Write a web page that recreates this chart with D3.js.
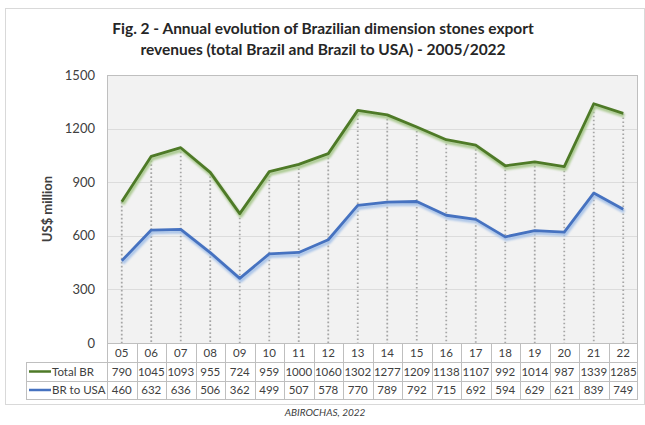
<!DOCTYPE html>
<html>
<head>
<meta charset="utf-8">
<script src="https://cdn.jsdelivr.net/npm/d3@7"></script>
<style>
  html, body { margin: 0; padding: 0; background: #ffffff; }
  svg { display: block; font-family: Lato, "Open Sans", sans-serif; }
</style>
</head>
<body>
<svg id="chart" width="645" height="425"></svg>
<script>
// Export revenues of Brazilian dimension stones, US$ million
const years = ["05","06","07","08","09","10","11","12","13","14","15","16","17","18","19","20","21","22"];
const totalBR = [790,1045,1093,955,724,959,1000,1060,1302,1277,1209,1138,1107,992,1014,987,1339,1285];
const brToUSA = [460,632,636,506,362,499,507,578,770,789,792,715,692,594,629,621,839,749];
const yTicks = [0,300,600,900,1200,1500];
const seriesNames = ["Total BR", "BR to USA"];
const seriesColors = ["#4e7a27", "#4672c0"];
const shadowColors = ["#a9c98e", "#a8c3e8"];

const svg = d3.select("#chart");

// outer chart frame
svg.append("rect")
  .attr("x", 5.5).attr("y", 8.5).attr("width", 639).attr("height", 396)
  .attr("fill", "#ffffff").attr("stroke", "#d9d9d9").attr("stroke-width", 1);

// title
const title = svg.append("text")
  .attr("text-anchor", "middle")
  .attr("font-weight", "bold")
  .attr("font-size", 15.5)
  .attr("fill", "#262626");
title.append("tspan").attr("x", 323).attr("y", 34)
  .text("Fig. 2 - Annual evolution of Brazilian dimension stones export");
title.append("tspan").attr("x", 323).attr("y", 55)
  .text("revenues (total Brazil and Brazil to USA) - 2005/2022");

const plot = { left: 107, right: 638, top: 75, bottom: 343 };

const x = d3.scaleBand().domain(years).range([plot.left, plot.right]);
const y = d3.scaleLinear().domain([0, 1500]).range([plot.bottom, plot.top]);

// plot background
svg.append("rect")
  .attr("x", plot.left).attr("y", plot.top)
  .attr("width", plot.right - plot.left).attr("height", plot.bottom - plot.top)
  .attr("fill", "#f2f2f2");

// horizontal gridlines
svg.append("g")
  .selectAll("line")
  .data(yTicks.filter(d => d > 0 && d < 1500))
  .join("line")
  .attr("x1", plot.left).attr("x2", plot.right)
  .attr("y1", d => Math.round(y(d)) + 0.5).attr("y2", d => Math.round(y(d)) + 0.5)
  .attr("stroke", "#dcdcdc").attr("stroke-width", 1);

// plot border
svg.append("rect")
  .attr("x", plot.left + 0.5).attr("y", plot.top + 0.5)
  .attr("width", plot.right - plot.left - 1).attr("height", plot.bottom - plot.top)
  .attr("fill", "none").attr("stroke", "#bfbfbf").attr("stroke-width", 1);

// y axis labels
const yAxis = d3.axisLeft(y).tickValues(yTicks).tickFormat(d3.format("d"))
  .tickSize(0).tickPadding(12);
const yg = svg.append("g").attr("transform", `translate(${plot.left},0)`).call(yAxis);
yg.select(".domain").remove();
yg.selectAll("text").attr("font-size", 13).attr("fill", "#404040")
  .attr("font-family", "Lato, 'Open Sans', sans-serif");

// y axis title
svg.append("text")
  .attr("transform", `translate(52,${(plot.top + plot.bottom) / 2}) rotate(-90)`)
  .attr("text-anchor", "middle")
  .attr("font-weight", "bold").attr("font-size", 13).attr("fill", "#404040")
  .text("US$ million");

// drop lines from the upper series to the axis
const cx = d => x(d) + x.bandwidth() / 2;
svg.append("g")
  .selectAll("line")
  .data(years)
  .join("line")
  .attr("x1", d => cx(d)).attr("x2", d => cx(d))
  .attr("y1", (d, i) => y(Math.max(totalBR[i], brToUSA[i])))
  .attr("y2", plot.bottom)
  .attr("stroke", "#a6a6a6").attr("stroke-width", 1.8)
  .attr("stroke-dasharray", "1.6 2.4");

// blurred shadow under each line
const defs = svg.append("defs");
defs.append("filter").attr("id", "soft")
  .attr("x", "-5%").attr("y", "-20%").attr("width", "110%").attr("height", "140%")
  .append("feGaussianBlur").attr("stdDeviation", 1.2);

const series = [totalBR, brToUSA];
const line = d3.line().x((d, i) => cx(years[i])).y(d => y(d));

series.forEach((vals, s) => {
  svg.append("path")
    .datum(vals)
    .attr("d", line)
    .attr("transform", "translate(1,2.5)")
    .attr("fill", "none")
    .attr("stroke", shadowColors[s])
    .attr("stroke-width", 3.5)
    .attr("stroke-linejoin", "round")
    .attr("filter", "url(#soft)");
  svg.append("path")
    .datum(vals)
    .attr("d", line)
    .attr("fill", "none")
    .attr("stroke", seriesColors[s])
    .attr("stroke-width", 2.8)
    .attr("stroke-linejoin", "round");
});

// data table under the plot
const rowTop = [plot.bottom, 362, 381];
const rowBottom = 399;
const tableLeft = 26;
const tg = svg.append("g");
const gridColor = "#bfbfbf";

// horizontal table lines
[362, 381, rowBottom].forEach(yy => {
  tg.append("line")
    .attr("x1", tableLeft).attr("x2", plot.right)
    .attr("y1", yy + 0.5).attr("y2", yy + 0.5)
    .attr("stroke", gridColor);
});
// vertical table lines
x.domain().forEach(d => {
  tg.append("line")
    .attr("x1", Math.round(x(d)) + 0.5).attr("x2", Math.round(x(d)) + 0.5)
    .attr("y1", plot.bottom).attr("y2", rowBottom)
    .attr("stroke", gridColor);
});
tg.append("line")
  .attr("x1", plot.right - 0.5).attr("x2", plot.right - 0.5)
  .attr("y1", plot.bottom).attr("y2", rowBottom).attr("stroke", gridColor);
tg.append("line")
  .attr("x1", tableLeft + 0.5).attr("x2", tableLeft + 0.5)
  .attr("y1", 362).attr("y2", rowBottom).attr("stroke", gridColor);

// category labels
tg.selectAll("text.cat")
  .data(years)
  .join("text")
  .attr("class", "cat")
  .attr("x", d => cx(d)).attr("y", (rowTop[0] + rowTop[1]) / 2 + 4.5)
  .attr("text-anchor", "middle")
  .attr("font-size", 11.5).attr("fill", "#404040")
  .text(d => d);

// value rows with legend keys
series.forEach((vals, s) => {
  const top = rowTop[s + 1];
  const bottom = s === 0 ? rowTop[2] : rowBottom;
  const mid = (top + bottom) / 2;
  tg.selectAll(`text.v${s}`)
    .data(vals)
    .join("text")
    .attr("class", `v${s}`)
    .attr("x", (d, i) => cx(years[i])).attr("y", mid + 4.2)
    .attr("text-anchor", "middle")
    .attr("font-size", 11.5).attr("fill", "#404040")
    .text(d => d);
  tg.append("line")
    .attr("x1", tableLeft + 3).attr("x2", tableLeft + 25)
    .attr("y1", mid).attr("y2", mid)
    .attr("stroke", seriesColors[s]).attr("stroke-width", 2.5);
  tg.append("text")
    .attr("x", tableLeft + 26).attr("y", mid + 4.2)
    .attr("font-size", 11.5).attr("fill", "#404040")
    .text(seriesNames[s]);
});

// source note
svg.append("text")
  .attr("x", 325).attr("y", 416)
  .attr("text-anchor", "middle")
  .attr("font-style", "italic").attr("font-size", 10).attr("fill", "#404040")
  .text("ABIROCHAS, 2022");
</script>
</body>
</html>
